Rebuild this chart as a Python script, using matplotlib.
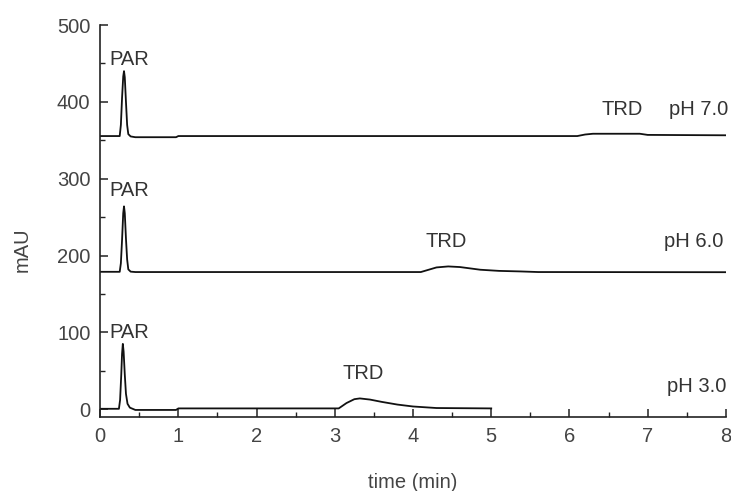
import matplotlib
matplotlib.use("Agg")
import matplotlib.pyplot as plt
from matplotlib.ticker import MultipleLocator

plt.rcParams['font.family'] = ['Liberation Sans', 'DejaVu Sans']

# Chromatograms (time in min, absorbance in mAU), one per mobile-phase pH
t_ph7 = [0, 0.25, 0.265, 0.28, 0.295, 0.305, 0.315, 0.33, 0.345, 0.36, 0.39, 0.45,
         0.97, 1.0, 6.1, 6.2, 6.3, 6.9, 7.0, 8.0]
a_ph7 = [355.5, 355.5, 370, 405, 433, 440, 432, 400, 370, 358, 355, 354,
         354, 355.5, 355.5, 357.5, 358.5, 358.5, 357, 356.5]

t_ph6 = [0, 0.25, 0.265, 0.28, 0.295, 0.305, 0.315, 0.33, 0.345, 0.36, 0.39, 0.45,
         4.1, 4.2, 4.3, 4.45, 4.6, 4.86, 5.1, 5.37, 5.6, 8.0]
a_ph6 = [178.8, 178.8, 190, 220, 255, 264, 255, 222, 195, 182, 179, 178.5,
         178.5, 181.5, 184.5, 185.8, 185, 181.5, 180, 179.3, 178.5, 178.3]

t_ph3 = [0, 0.24, 0.255, 0.27, 0.28, 0.29, 0.3, 0.315, 0.33, 0.35, 0.38, 0.45,
         0.97, 1.0, 3.05, 3.15, 3.25, 3.32, 3.45, 3.6, 3.8, 4.0, 4.3, 5.0]
a_ph3 = [0.5, 0.5, 12, 45, 72, 85, 75, 45, 20, 7, 2, -1,
         -1, 1, 1, 8, 13, 14, 12.5, 9.5, 6, 3.5, 1.5, 1]

traces = [(t_ph7, a_ph7), (t_ph6, a_ph6), (t_ph3, a_ph3)]

# Peak and trace annotations: (text, x, y)
par_labels = [("PAR", 0.37, 455), ("PAR", 0.37, 285), ("PAR", 0.37, 100)]
trd_labels = [("TRD", 6.68, 390), ("TRD", 4.42, 218), ("TRD", 3.36, 47)]
ph_labels = [("pH 7.0", 8.03, 390), ("pH 6.0", 7.97, 218), ("pH 3.0", 8.0, 30)]

x_ticks = [0, 1, 2, 3, 4, 5, 6, 7, 8]
y_ticks = [0, 100, 200, 300, 400, 500]

fig = plt.figure(figsize=(7.31, 4.91), dpi=100)
ax = fig.add_axes([0.137, 0.151, 0.856, 0.798])

for t, a in traces:
    ax.plot(t, a, color='#111111', lw=1.3, solid_joinstyle='round')

txt_color = '#333333'
fs = 14.5
for s, x, y in par_labels + trd_labels:
    ax.text(x, y, s, ha='center', va='center', fontsize=fs, color=txt_color)
for s, x, y in ph_labels:
    ax.text(x, y, s, ha='right', va='center', fontsize=fs, color=txt_color)

ax.set_xlim(0, 8)
ax.set_ylim(-10, 500)
ax.set_xticks(x_ticks)
ax.set_yticks(y_ticks)
ax.xaxis.set_minor_locator(MultipleLocator(0.5))
ax.yaxis.set_minor_locator(MultipleLocator(50))

for side in ['top', 'right']:
    ax.spines[side].set_visible(False)
for side in ['left', 'bottom']:
    ax.spines[side].set_linewidth(1.2)
    ax.spines[side].set_color('#222222')

ax.tick_params(which='major', direction='in', length=6, width=1.1,
               colors='#222222', labelsize=14.5, labelcolor='#444444', pad=7)
ax.tick_params(which='minor', direction='in', length=3.5, width=1.0, colors='#222222')

ax.set_xlabel("time (min)", fontsize=14.5, color='#444444', labelpad=20)
ax.set_ylabel("mAU", fontsize=14.5, color='#444444')
ax.yaxis.set_label_coords(-0.11, 0.426)

fig.savefig("out.png", dpi=100)
